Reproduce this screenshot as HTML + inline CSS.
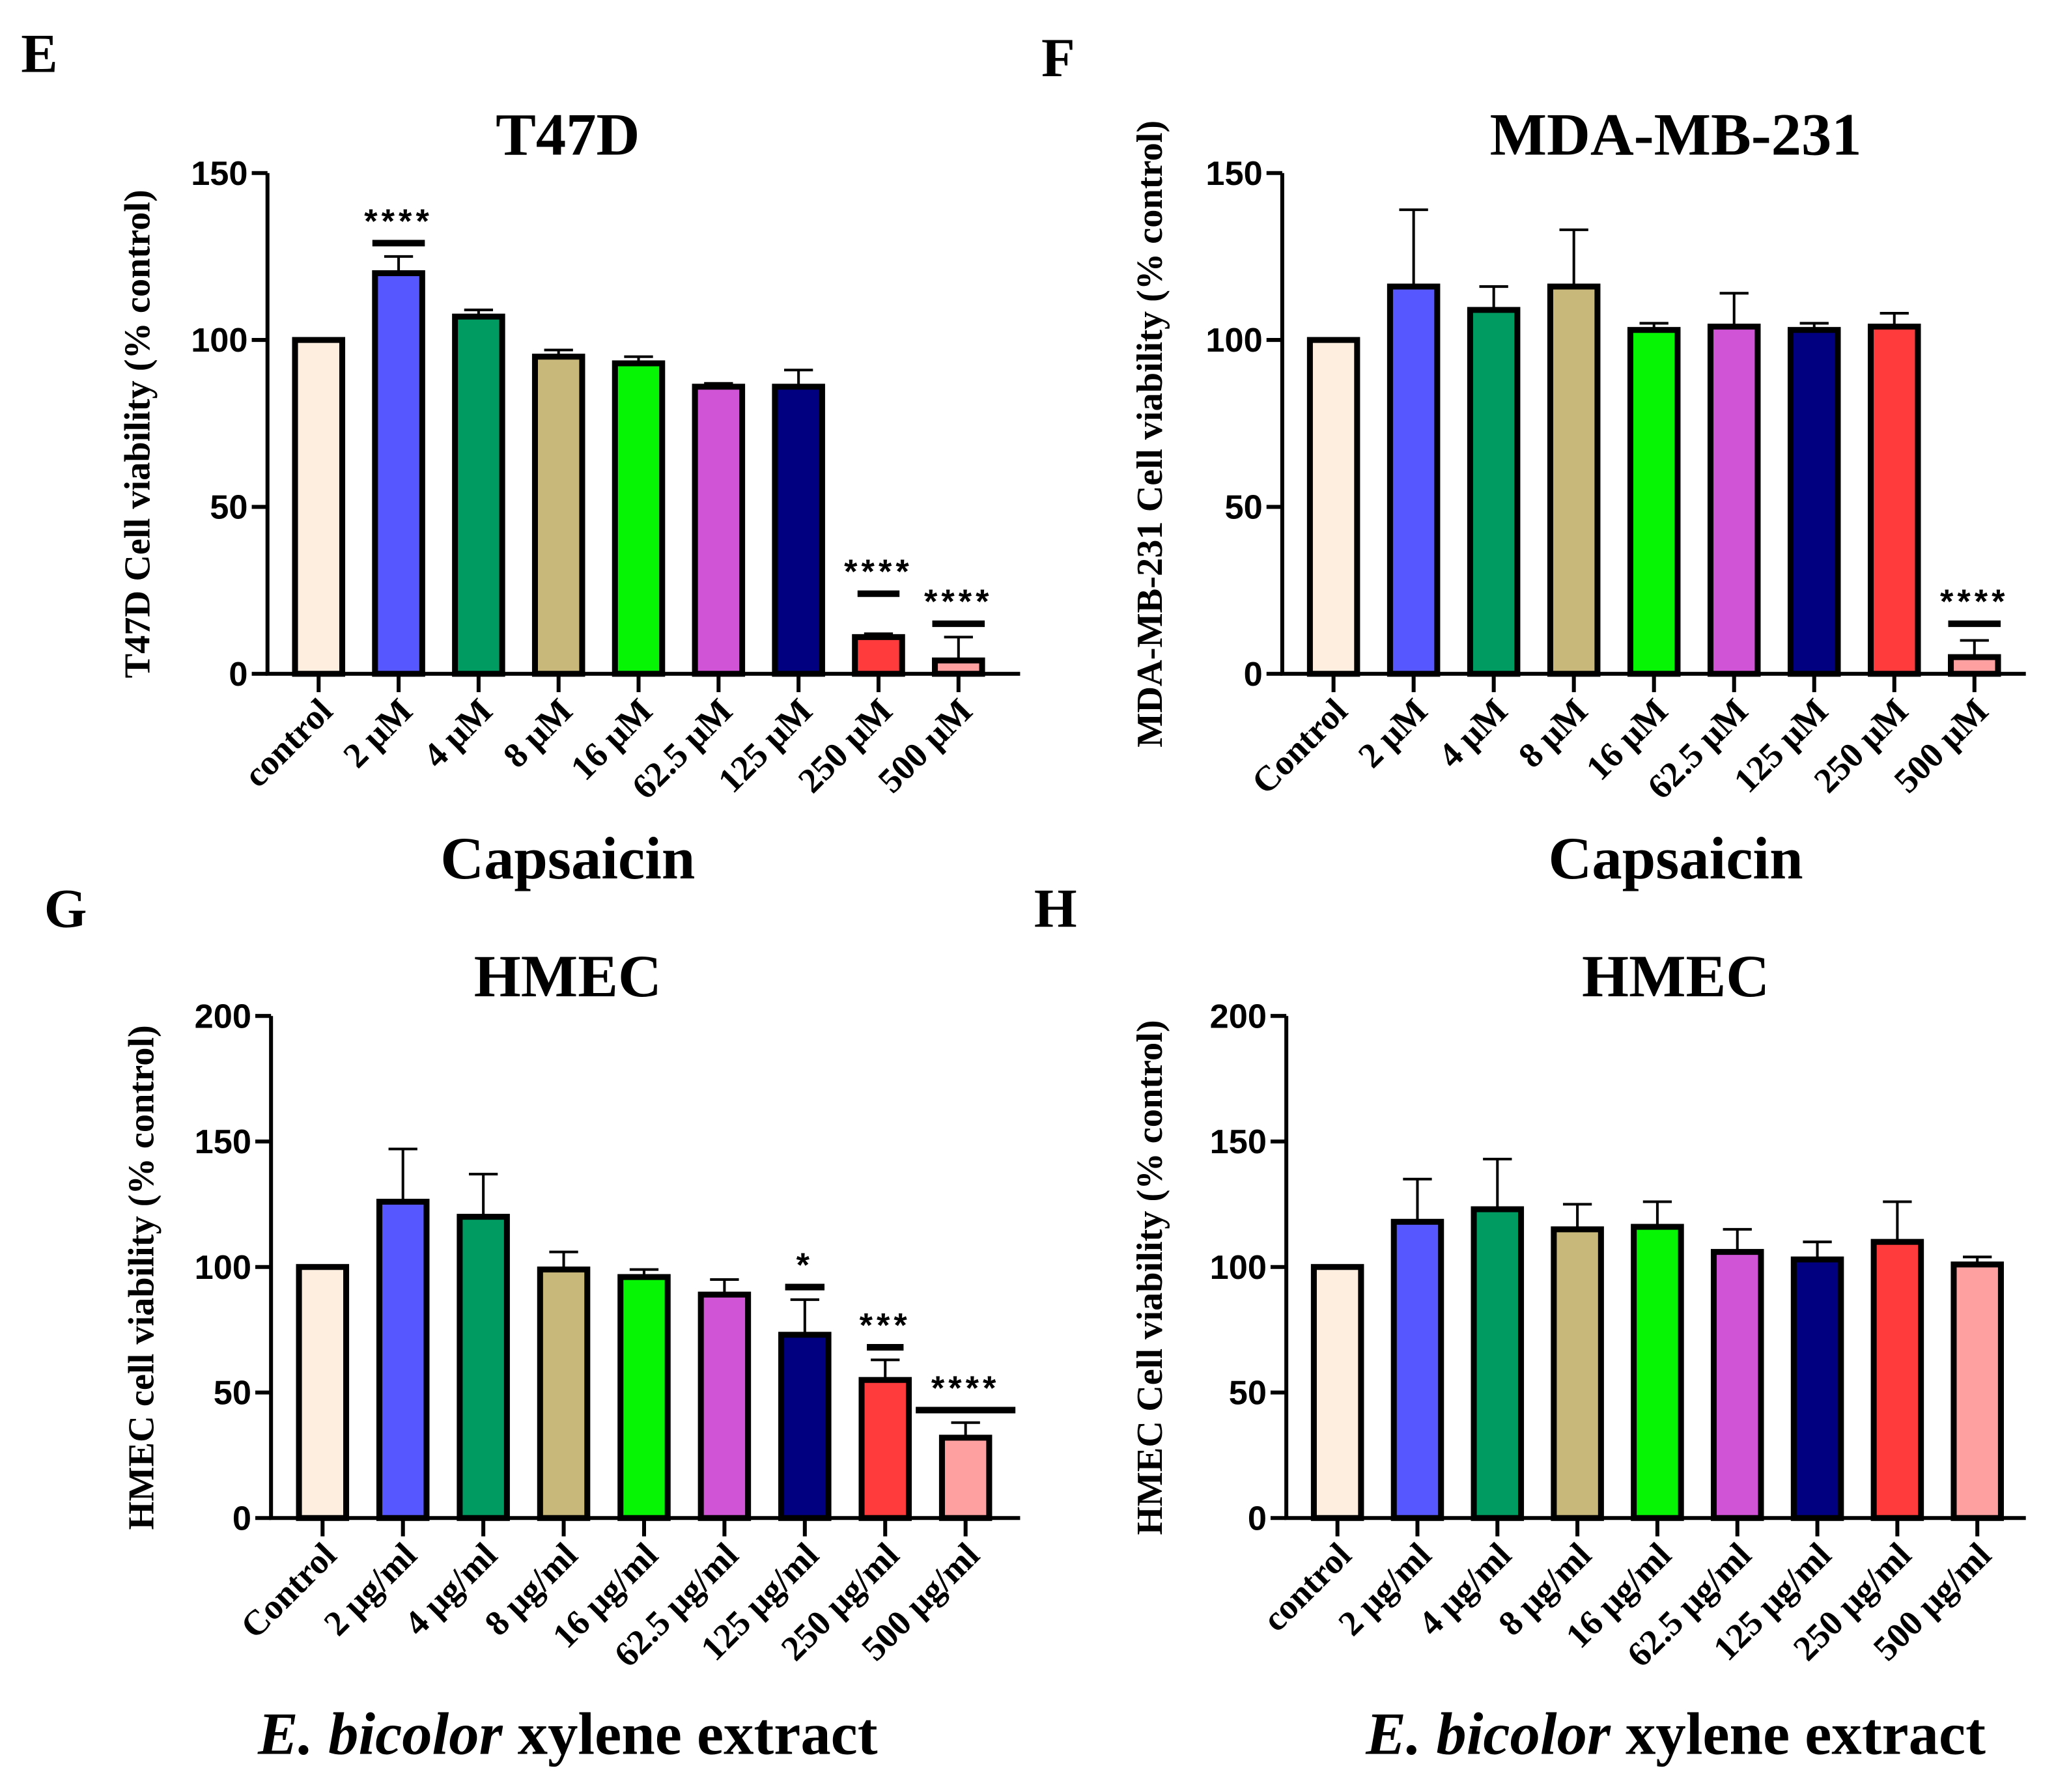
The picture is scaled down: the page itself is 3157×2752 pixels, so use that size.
<!DOCTYPE html>
<html><head><meta charset="utf-8"><style>
html,body{margin:0;padding:0;background:#fff;}
svg{display:block;}
.tk{font-family:"Liberation Sans",Arial,sans-serif;font-weight:bold;font-size:26px;}
.tm{font-family:"Liberation Serif","Times New Roman",serif;font-weight:bold;}
</style></head><body>
<svg id="fig" xmlns="http://www.w3.org/2000/svg" width="3157" height="2752" viewBox="0 0 1568 1367" preserveAspectRatio="none"></svg>
<script>
const colors = ["#FDEEDF","#5757FF","#009B60","#C8B87A","#05F505","#D054D6","#000080","#FF3B3B","#FFA0A0"];
const catsE = ["control","2 μM","4 μM","8 μM","16 μM","62.5 μM","125 μM","250 μM","500 μM"];
const catsF = ["Control","2 μM","4 μM","8 μM","16 μM","62.5 μM","125 μM","250 μM","500 μM"];
const catsG = ["Control","2 μg/ml","4 μg/ml","8 μg/ml","16 μg/ml","62.5 μg/ml","125 μg/ml","250 μg/ml","500 μg/ml"];
const catsH = ["control","2 μg/ml","4 μg/ml","8 μg/ml","16 μg/ml","62.5 μg/ml","125 μg/ml","250 μg/ml","500 μg/ml"];
const valsE = [100,120,107,95,93,86,86,11,4];
const errE  = [100,125,109,97,95,87,91,12,11];
const valsF = [100,116,109,116,103,104,103,104,5];
const errF  = [100,139,116,133,105,114,105,108,10];
const valsG = [100,126,120,99,96,89,73,55,32];
const errG  = [100,147,137,106,99,95,87,63,38];
const valsH = [100,118,123,115,116,106,103,110,101];
const errH  = [100,135,143,125,126,115,110,126,104];
const ticks150 = [0,50,100,150];
const ticks200 = [0,50,100,150,200];
// significance: [barIndex, lineValue, label, halfWidth]
const sigE = [[1,129,"****",20],[7,24,"****",16],[8,15,"****",20]];
const sigF = [[8,15,"****",20]];
const sigG = [[6,92,"*",15],[7,68,"***",14],[8,43,"****",38]];
const sigH = [];

const svg = document.getElementById('fig');
const NS = "http://www.w3.org/2000/svg";
function mk(tag, attrs, parent){
  const e = document.createElementNS(NS, tag);
  for (const k in attrs) e.setAttribute(k, attrs[k]);
  (parent||svg).appendChild(e);
  return e;
}

function panel(p){
  const g = mk('g', {});
  
  
  const y = v => p.y0 - (v / p.ymax) * (p.y0 - p.ytop);
  const x = i => p.x0 + i * p.step;
  const L = mk('text', {x:p.letter[0], y:p.letter[1], class:'tm', 'font-size':42, 'text-anchor':'middle'}, g);
  L.textContent = p.letterText;
  
  
  const T = mk('text', {x:p.tx, y:p.ty, class:'tm', 'font-size':46, 'text-anchor':'middle'}, g);
  T.textContent = p.title;
  
  
  p.vals.forEach((v, i) => {
    const cx = x(i);
    const eb = mk('path', {d:`M${cx} ${y(v)} V${y(p.err[i])} M${cx-11} ${y(p.err[i])} H${cx+11}`, stroke:'#000', 'stroke-width':2, fill:'none'}, g);
    
    
    const r = mk('rect', {x:cx-18, y:y(v), width:36, height:p.y0 - y(v), fill:colors[i], stroke:'#000', 'stroke-width':4.5}, g);
    
    
    const t = mk('line', {x1:cx, x2:cx, y1:p.y0, y2:p.y0+14, stroke:'#000', 'stroke-width':3}, g);
    
    
    const lx = cx + 12, ly = p.y0 + 30;
    const lab = mk('text', {x:lx, y:ly, class:'tm', 'font-size':27, 'text-anchor':'end', transform:`rotate(-45 ${lx} ${ly})`}, g);
    lab.textContent = p.cats[i];
    
    
  });
  const axX = p.x0 - p.step + 22;
  const ax = mk('path', {d:`M${axX} ${p.ytop} V${p.y0} H${p.xend}`, stroke:'#000', 'stroke-width':3, fill:'none'}, g);
  
  
  p.ticks.forEach(tv => {
    const tl = mk('line', {x1:axX-12, x2:axX, y1:y(tv), y2:y(tv), stroke:'#000', 'stroke-width':3}, g);
    
    
    const tt = mk('text', {x:axX-15, y:y(tv)+9, class:'tk', 'text-anchor':'end'}, g);
    tt.textContent = tv;
    
    
  });
  p.sig.forEach(s => {
    const cx = x(s[0]);
    const ln = mk('line', {x1:cx - s[3], x2:cx + s[3], y1:y(s[1]), y2:y(s[1]), stroke:'#000', 'stroke-width':5}, g);
    
    
    const st = mk('text', {x:cx, y:y(s[1]) - 8, class:'tk', 'font-size':36, 'text-anchor':'middle', 'letter-spacing':'3'}, g);
    st.textContent = s[2];
    
    
  });
  const yc = (p.ytop + p.y0) / 2 + 8;
  const yl = mk('text', {x:p.ylx, y:yc, class:'tm', 'font-size':28, 'text-anchor':'middle', transform:`rotate(-90 ${p.ylx} ${yc})`}, g);
  yl.textContent = p.ylabel;
  
  
  const xt = mk('text', {x:p.tx, y:p.xty, class:'tm', 'font-size':46, 'text-anchor':'middle'}, g);
  if (p.italic) {
    const a = mk('tspan', {'font-style':'italic'}, xt); a.textContent = 'E. bicolor';
    const b = mk('tspan', {}, xt); b.textContent = ' xylene extract';
  } else xt.textContent = p.xtitle;
  
  
}

panel({name:'panel-e', letterText:'E', letter:[30,55], title:'T47D', tx:433, ty:118, x0:243, step:61, xend:778, ytop:132, y0:514, ymax:150, ticks:ticks150, cats:catsE, vals:valsE, err:errE, sig:sigE, ylx:114, ylabel:'T47D Cell viability (% control)', xtitle:'Capsaicin', xty:670});
panel({name:'panel-f', letterText:'F', letter:[807,58], title:'MDA-MB-231', tx:1278, ty:118, x0:1017, step:61.1, xend:1545, ytop:132, y0:514, ymax:150, ticks:ticks150, cats:catsF, vals:valsF, err:errF, sig:sigF, ylx:886, ylabel:'MDA-MB-231 Cell viability (% control)', xtitle:'Capsaicin', xty:670});
panel({name:'panel-g', letterText:'G', letter:[50,707], title:'HMEC', tx:433, ty:760, x0:246, step:61.3, xend:778, ytop:775, y0:1158, ymax:200, ticks:ticks200, cats:catsG, vals:valsG, err:errG, sig:sigG, ylx:117, ylabel:'HMEC cell viability (% control)', xtitle:'', italic:true, xty:1338});
panel({name:'panel-h', letterText:'H', letter:[805,707], title:'HMEC', tx:1278, ty:760, x0:1020, step:61, xend:1545, ytop:775, y0:1158, ymax:200, ticks:ticks200, cats:catsH, vals:valsH, err:errH, sig:sigH, ylx:886, ylabel:'HMEC Cell viability (% control)', xtitle:'', italic:true, xty:1338});
</script>
</body></html>
